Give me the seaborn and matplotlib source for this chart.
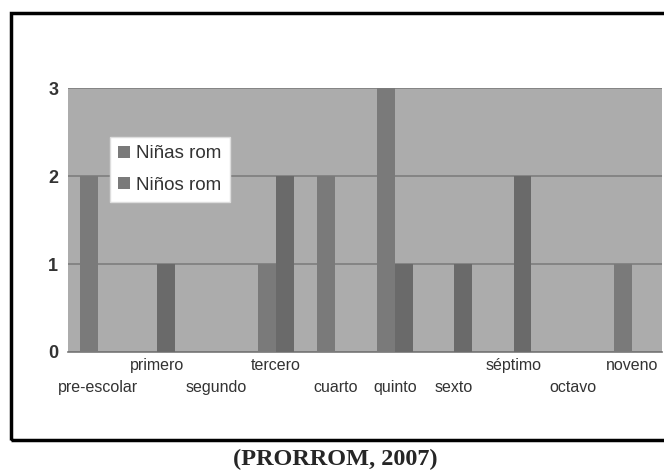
import pandas as pd
import matplotlib
matplotlib.use("Agg")
import matplotlib.pyplot as plt
import seaborn as sns
from matplotlib.patches import Rectangle

# Data
grades = ["pre-escolar", "primero", "segundo", "tercero", "cuarto",
          "quinto", "sexto", "séptimo", "octavo", "noveno"]
ninas = [2, 0, 0, 1, 2, 3, 0, 0, 0, 1]
ninos = [0, 1, 0, 2, 0, 1, 1, 2, 0, 0]
series_names = ["Niñas rom", "Niños rom"]
upper_row = ["primero", "tercero", "séptimo", "noveno"]

df = pd.DataFrame({"Grado": grades * 2,
                   "Valor": ninas + ninos,
                   "Serie": [series_names[0]] * len(grades) + [series_names[1]] * len(grades)})

sns.set_style("white")
plt.rcParams['font.family'] = ['Liberation Sans', 'DejaVu Sans']

fig = plt.figure(figsize=(6.64, 4.74), dpi=100)
ax = fig.add_axes([68 / 664, 1 - 352 / 474, 594 / 664, 264 / 474])
ax.set_facecolor("#acacac")

sns.barplot(data=df, x="Grado", y="Valor", hue="Serie", order=grades,
            palette=["#7a7a7a", "#6a6a6a"], width=0.6, saturation=1,
            linewidth=0, ax=ax, zorder=3)

ax.set_ylim(0, 3)
ax.set_xlim(-0.5, len(grades) - 0.5)
ax.set_yticks([0, 1, 2, 3])
ax.yaxis.grid(True, color="#7e7e7e", linewidth=1.2, zorder=1)
ax.set_axisbelow(True)
ax.set_xlabel("")
ax.set_ylabel("")

for side in ["top", "right"]:
    ax.spines[side].set_visible(False)
ax.spines["left"].set_visible(False)
ax.spines["bottom"].set_color("#777777")
ax.spines["bottom"].set_linewidth(1.2)

ax.tick_params(axis="y", length=4, color="#777777", width=1, pad=3,
               labelsize=13)
for lab in ax.get_yticklabels():
    lab.set_fontweight("bold")
    lab.set_color("#333333")

# category labels, staggered in two rows
ax.set_xticks(range(len(grades)))
ax.set_xticklabels(grades, fontsize=11.5, color="#333333")
ax.tick_params(axis="x", which="major", length=0)
for tick, g in zip(ax.xaxis.get_major_ticks(), grades):
    tick.set_pad(4 if g in upper_row else 20.5)
# boundary tick marks
ax.set_xticks([i - 0.5 for i in range(len(grades) + 1)], minor=True)
ax.tick_params(axis="x", which="minor", length=5, color="#777777", width=1)

leg = ax.legend(loc="upper left", bbox_to_anchor=(42 / 594, 215 / 264),
                borderaxespad=0, frameon=True, fancybox=False, framealpha=1,
                edgecolor="#dddddd", fontsize=13.5, handlelength=0.6,
                handleheight=0.6, handletextpad=0.35, borderpad=0.45,
                labelspacing=0.75)
for h in leg.legend_handles:
    h.set_facecolor("#7a7a7a")
for t in leg.get_texts():
    t.set_color("#333333")

# black frame around the chart
fig.patches.append(Rectangle((11 / 664, 1 - 440 / 474), 700 / 664, 427 / 474,
                             transform=fig.transFigure, fill=False,
                             edgecolor="black", linewidth=2.5))

fig.text(335 / 664, 1 - 459 / 474, "(PRORROM, 2007)", ha="center", va="center",
         fontsize=17.5, fontweight="bold", family=["Liberation Serif", "DejaVu Serif"])

fig.savefig("out.png", dpi=100)
